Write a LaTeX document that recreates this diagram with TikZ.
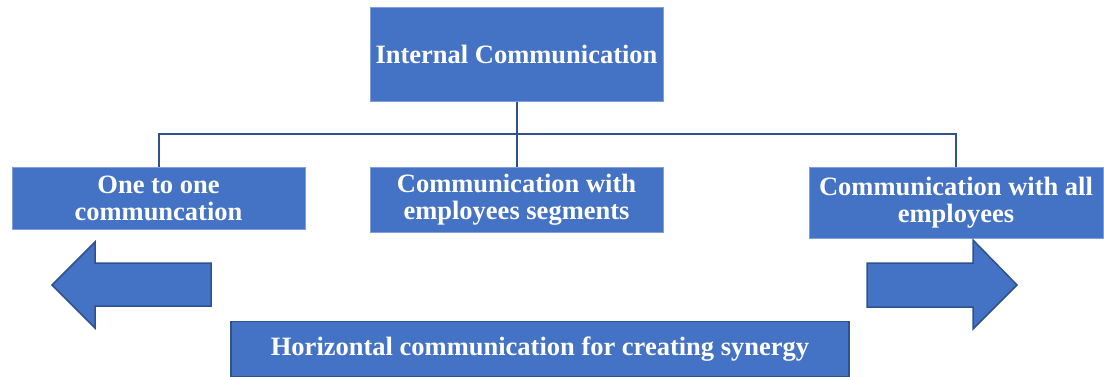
\documentclass[tikz,border=0pt]{standalone}
\usepackage{fontspec}
\setmainfont{Liberation Serif}
\definecolor{boxblue}{HTML}{4472C4}
\definecolor{edgeblue}{HTML}{2F528F}
\definecolor{lightedge}{HTML}{7F9FD8}
\begin{document}
\begin{tikzpicture}[x=1pt,y=-1pt,
  box/.style={rectangle, fill=boxblue, draw=lightedge, line width=0.8pt,
    inner sep=0pt, align=center, text=white,
    font=\fontsize{26.5}{27}\selectfont\bfseries},
  darkbox/.style={box, draw=edgeblue, line width=1.5pt},
  link/.style={draw=edgeblue, line width=2pt},
  bigarrow/.style={fill=boxblue, draw=edgeblue, line width=1.5pt, line join=miter}]
\useasboundingbox (0,0) rectangle (1104,377);

% main heading and the three kinds of communication
\node[box, minimum width=293pt, minimum height=94pt] (top) at (516.5,54.5) {Internal Communication};
\node[box, minimum width=293pt, minimum height=62pt] (one) at (158.5,198) {One to one\\communcation};
\node[box, minimum width=293pt, minimum height=65pt] (seg) at (516.5,199.5) {Communication with\\employees segments};
\node[box, minimum width=294pt, minimum height=71pt] (all) at (956,202.5) {Communication with all\\employees};

% tree connectors
\coordinate (bus) at (516.5,134);
\draw[link] (top.south) -- (bus);
\draw[link] (bus) -| (one.north);
\draw[link] (bus) -| (all.north);
\draw[link] (bus) -- (seg.north);

% horizontal arrows
\draw[bigarrow] (52,285) -- (95,242) -- (95,263) -- (211,263) -- (211,306) -- (95,306) -- (95,328) -- cycle;
\draw[bigarrow] (1017,285) -- (973,240) -- (973,263) -- (867,263) -- (867,307) -- (973,307) -- (973,329) -- cycle;

% bottom banner
\node[darkbox, minimum width=618pt, minimum height=55pt] (horiz) at (540,349) {Horizontal communication for creating synergy};
\end{tikzpicture}
\end{document}
